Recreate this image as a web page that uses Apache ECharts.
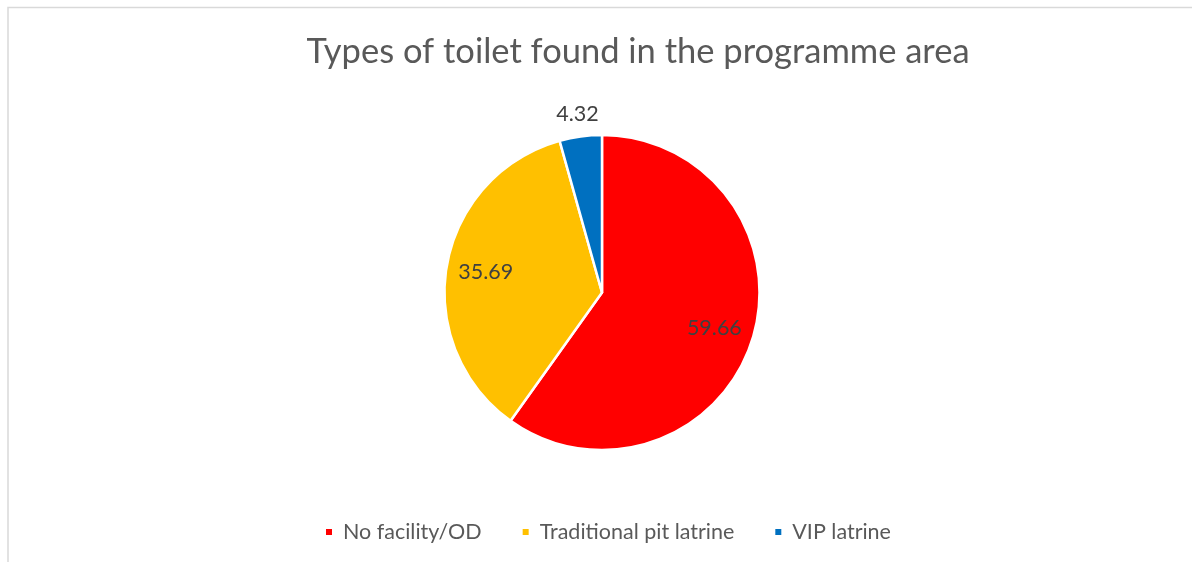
<!DOCTYPE html>
<html>
<head>
<meta charset="utf-8">
<title>Types of toilet found in the programme area</title>
<script src="https://cdn.jsdelivr.net/npm/echarts@6/dist/echarts.min.js"></script>
<style>
  html, body { margin: 0; padding: 0; background: #ffffff; }
  #chart { width: 1192px; height: 562px; }
</style>
</head>
<body>
<div id="chart"></div>
<script>
// Toilet types, share of households (%)
const categories = ['No facility/OD', 'Traditional pit latrine', 'VIP latrine'];
const values = [59.66, 35.69, 4.32];
const colors = ['#FF0000', '#FFC000', '#0070C0'];
const titleText = 'Types of toilet found in the programme area';

const FONT = 'Lato, "Open Sans", sans-serif';
const CENTER = [602, 292.5];
const R = 157.5;

const pieData = categories.map((name, i) => ({
  name: name,
  value: values[i],
  itemStyle: { color: colors[i] }
}));

// Label carriers: same data, invisible wedges, used only to place the value text
function labelRing(showIdx) {
  return categories.map((name, i) => ({
    name: name,
    value: values[i],
    itemStyle: { color: 'rgba(0,0,0,0)', borderWidth: 0 },
    label: { show: showIdx.indexOf(i) >= 0 }
  }));
}

const labelStyle = {
  position: 'inside',
  formatter: p => p.value.toFixed(2),
  color: '#404040',
  fontFamily: FONT,
  fontSize: 21.5
};

const chart = echarts.init(document.getElementById('chart'), null, { renderer: 'canvas' });

chart.setOption({
  backgroundColor: '#ffffff',
  animation: false,
  title: {
    text: titleText,
    left: 638,
    top: 34,
    textAlign: 'center',
    padding: 0,
    textStyle: { color: '#595959', fontFamily: FONT, fontSize: 34.5, fontWeight: 'normal' }
  },
  legend: {
    data: categories,
    left: 324,
    top: 521,
    padding: 0,
    icon: 'rect',
    itemWidth: 8,
    itemHeight: 8,
    itemGap: 39,
    selectedMode: false,
    textStyle: { color: '#595959', fontFamily: FONT, fontSize: 21.5, padding: [0, 0, 0, 5] }
  },
  graphic: [{
    type: 'rect',
    silent: true,
    shape: { x: 8, y: 7.5, width: 1300, height: 700 },
    style: { fill: 'none', stroke: '#d9d9d9', lineWidth: 1.5 }
  }],
  series: [
    {
      name: 'Toilet type',
      type: 'pie',
      center: CENTER,
      radius: [0, R],
      startAngle: 90,
      clockwise: true,
      avoidLabelOverlap: false,
      label: { show: false },
      labelLine: { show: false },
      emphasis: { disabled: true },
      itemStyle: { borderColor: '#ffffff', borderWidth: 2.5 },
      data: pieData
    },
    {
      type: 'pie',
      center: CENTER,
      radius: [R * 0.46, R],
      startAngle: 90,
      clockwise: true,
      silent: true,
      legendHoverLink: false,
      avoidLabelOverlap: false,
      emphasis: { disabled: true },
      label: labelStyle,
      labelLine: { show: false },
      data: labelRing([0, 1])
    },
    {
      type: 'pie',
      center: CENTER,
      radius: [R, R + 40],
      startAngle: 90,
      clockwise: true,
      silent: true,
      legendHoverLink: false,
      avoidLabelOverlap: false,
      emphasis: { disabled: true },
      label: labelStyle,
      labelLine: { show: false },
      data: labelRing([2])
    }
  ]
});
</script>
</body>
</html>
